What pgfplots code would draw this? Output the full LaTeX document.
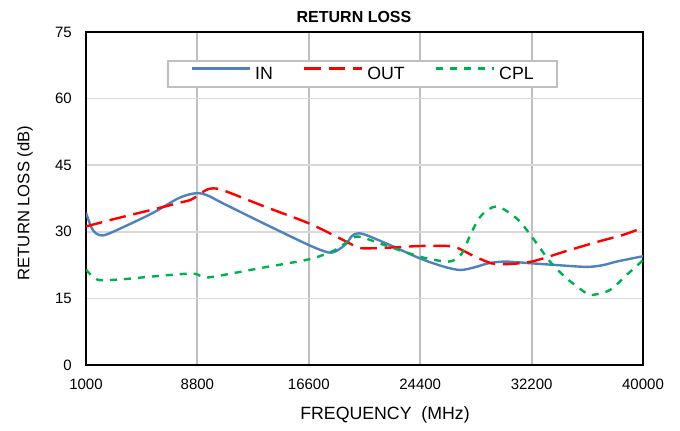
\documentclass[border=0pt]{standalone}
\usepackage{fontspec}
\setmainfont{Liberation Sans}
\usepackage{pgfplots}
\pgfplotsset{compat=1.18}
\definecolor{inblue}{RGB}{79,129,189}
\definecolor{outred}{RGB}{255,0,0}
\definecolor{cplgreen}{RGB}{0,176,80}
\definecolor{vgrid}{RGB}{191,191,191}
\definecolor{hgrid}{RGB}{217,217,217}
\begin{document}
\begin{tikzpicture}
\useasboundingbox (-64.5pt,-48.75pt) rectangle (445.5pt,273.75pt);
\begin{axis}[
  scale only axis, width=417.75pt, height=249.75pt,
  xmin=1000, xmax=40000, ymin=0, ymax=75,
  xtick={1000,8800,16600,24400,32200,40000},
  ytick={0,15,30,45,60,75},
  scaled x ticks=false, scaled y ticks=false,
  major tick length=0pt,
  /pgf/number format/assume math mode=true,
  xticklabel style={/pgf/number format/1000 sep={}, inner sep=0pt, anchor=north, yshift=-10.5pt},
  yticklabel style={inner sep=0pt, anchor=east, xshift=-10.5pt},
  tick label style={font=\fontsize{11.25}{13}\selectfont},
  xmajorgrids, ymajorgrids,
  x grid style={vgrid, line width=1.5pt},
  y grid style={hgrid, line width=1.1pt},
  axis line style={black, line width=1.5pt},
  legend columns=3,
  legend style={at={(0.496,0.874)}, anchor=center, draw=vgrid, line width=1.5pt,
    font=\fontsize{13.3}{15}\selectfont, inner xsep=17.5pt, inner ysep=4.5pt,
    nodes={inner sep=0pt},
    /tikz/every odd column/.append style={column sep=3pt},
    /tikz/every even column/.append style={column sep=22.5pt}},
  legend cell align=left,
  legend image code/.code={\draw[#1] (0pt,0.8ex) -- (43.5pt,0.8ex);},
]
\addplot[inblue, line width=1.8pt, smooth, tension=0.5] coordinates {
(1000,34.3) (1250,32.0) (1500,30.3) (1900,29.3) (2600,29.6) (5530,34.0) (7500,37.6) (8700,38.7) (9500,38.2) (10660,36.3) (13500,31.8) (16610,27.0) (17700,25.6) (18200,25.3) (18700,26.0) (19250,27.4) (19600,29.0) (19950,29.6) (20500,29.4) (22300,27.0) (24390,24.0) (26000,22.2) (27190,21.4) (28200,22.0) (29170,22.9) (30340,23.3) (32210,22.9) (34000,22.5) (36060,22.1) (37200,22.5) (38160,23.3) (40000,24.5)
};
\addlegendentry{IN}
\addplot[outred, line width=1.8pt, dash pattern=on 12.5pt off 5.8pt, smooth, tension=0.5] coordinates {
(1000,31.2) (3000,32.9) (5530,34.9) (7500,36.5) (8330,37.2) (8900,38.3) (9400,39.4) (9900,39.8) (10730,39.2) (13500,35.7) (16610,31.9) (18790,28.5) (19700,27.0) (20300,26.3) (22000,26.4) (24390,26.8) (26370,26.8) (27070,26.3) (28240,24.4) (29410,22.9) (30340,22.7) (32210,23.3) (34660,25.7) (36990,27.9) (38500,29.2) (39560,30.4) (40000,31.0)
};
\addlegendentry{OUT}
\addplot[cplgreen, line width=1.8pt, dash pattern=on 5.25pt off 5.25pt, smooth, tension=0.5] coordinates {
(1000,21.5) (1500,19.8) (2030,19.1) (3500,19.3) (5530,19.9) (8330,20.6) (9000,20.1) (9470,19.7) (10660,20.3) (13500,22.0) (16610,23.8) (18320,25.7) (19140,27.4) (19700,28.7) (20300,28.8) (22170,26.7) (24390,24.4) (25910,23.4) (26610,23.4) (27310,25.1) (28010,30.0) (28710,33.8) (29760,35.7) (31160,33.0) (32210,28.9) (33490,23.3) (34660,19.5) (36060,16.1) (36520,15.8) (37690,16.9) (38860,20.3) (40000,23.6)
};
\addlegendentry{CPL}
\end{axis}
\node[font=\bfseries\fontsize{12}{14}\selectfont] at (201pt,261pt) {RETURN LOSS};
\node[rotate=90, font=\fontsize{12.5}{15}\selectfont] at (-45.75pt,121.5pt) {RETURN LOSS (dB)};
\node[font=\fontsize{13.3}{15}\selectfont] at (224.25pt,-37.5pt) {FREQUENCY~~(MHz)};
\end{tikzpicture}
\end{document}
